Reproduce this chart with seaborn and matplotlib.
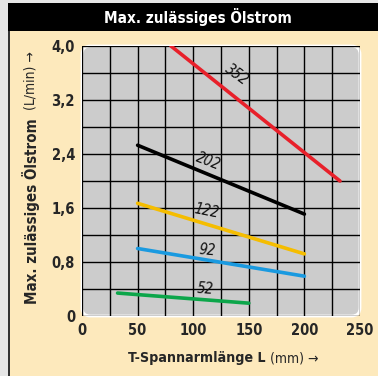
import pandas as pd
import matplotlib.pyplot as plt
import seaborn as sns
from matplotlib.patches import Rectangle, FancyBboxPatch
from matplotlib.ticker import MultipleLocator, FixedLocator

# data
sizes = ["352", "202", "122", "92", "52"]
length_mm = [[80, 232], [50, 200], [50, 200], [50, 200], [32, 150]]
oil_flow = [[4.0, 2.0], [2.53, 1.51], [1.67, 0.92], [1.0, 0.59], [0.34, 0.19]]
line_colors = ["#e8202a", "#000000", "#f5bd00", "#1a9ae0", "#0ca64a"]

label_x = [139, 114, 112, 113, 111]
label_y = [3.58, 2.29, 1.55, 0.98, 0.40]
label_rot = [-36, -21, -11, -5, -3]

yticks = [0, 0.8, 1.6, 2.4, 3.2, 4.0]
ytick_labels = ["0", "0,8", "1,6", "2,4", "3,2", "4,0"]
xticks = [0, 50, 100, 150, 200, 250]

rows = []
for s, xs, ys in zip(sizes, length_mm, oil_flow):
    for x, y in zip(xs, ys):
        rows.append({"size": s, "L": x, "flow": y})
df = pd.DataFrame(rows)

sns.set_style("white")
plt.rcParams["font.family"] = ["DejaVu Sans"]
plt.rcParams["font.stretch"] = "condensed"

cream = "#fde9bc"
fig = plt.figure(figsize=(3.78, 3.76), dpi=100)
fig.patch.set_facecolor("#e6e6e6")

# cream panel and black title bar
fig.patches.append(Rectangle((8 / 378, 0), 1, 345 / 376, transform=fig.transFigure,
                             facecolor=cream, edgecolor="none", zorder=-2))
fig.patches.append(Rectangle((8 / 378, 0), 0.005, 345 / 376, transform=fig.transFigure,
                             facecolor="#333333", edgecolor="none", zorder=-2))
fig.patches.append(Rectangle((8 / 378, 345 / 376), 1, 28 / 376, transform=fig.transFigure,
                             facecolor="black", edgecolor="none", zorder=-2))
fig.text(198 / 378, 359 / 376, "Max. zulässiges Ölstrom", color="white",
         fontsize=11, fontweight="bold", ha="center", va="center")

ax = fig.add_axes([82 / 378, 60 / 376, 278 / 378, 270 / 376])
ax.set_facecolor("none")

bg = FancyBboxPatch((0, 0), 1, 1, boxstyle="round,pad=0,rounding_size=0.03",
                    transform=ax.transAxes, facecolor="#cccccc", edgecolor="white",
                    linewidth=2, zorder=0, clip_on=False, mutation_aspect=278 / 270)
ax.add_patch(bg)

sns.lineplot(data=df, x="L", y="flow", hue="size", hue_order=sizes,
             palette=line_colors, linewidth=2.6, legend=False, ax=ax, zorder=3)

for s, x, y, r in zip(sizes, label_x, label_y, label_rot):
    ax.text(x, y, s, rotation=r, ha="center", va="center", fontsize=10.5,
            fontstyle="italic", color="#111111", zorder=4)

ax.set_xlim(0, 250)
ax.set_ylim(0, 4.0)
ax.set_xlabel("")
ax.set_ylabel("")
ax.xaxis.set_major_locator(FixedLocator(xticks))
ax.xaxis.set_minor_locator(MultipleLocator(25))
ax.yaxis.set_major_locator(FixedLocator(yticks))
ax.yaxis.set_minor_locator(MultipleLocator(0.4))
ax.set_yticklabels(ytick_labels)
ax.grid(which="both", color="black", linewidth=1)
ax.set_axisbelow(False)
for sp in ax.spines.values():
    sp.set_visible(False)
ax.tick_params(which="major", length=3, width=0.8, color="#333333",
               labelsize=10.5, pad=2)
ax.tick_params(which="minor", length=0)
for t in ax.get_xticklabels() + ax.get_yticklabels():
    t.set_fontweight("bold")

# axis titles, bold part followed by normal part
xb = fig.text(128 / 378, 14 / 376, "T-Spannarmlänge L", fontsize=10.2, fontweight="bold",
              ha="left", va="baseline")
ax.annotate(" (mm) \u2192", xy=(1, 0), xycoords=xb, fontsize=10,
            ha="left", va="bottom", annotation_clip=False)
yb = fig.text(31 / 378, 72 / 376, "Max. zulässiges Ölstrom", fontsize=10.8,
              fontweight="bold", rotation=90, ha="center", va="bottom")
ax.annotate("  (L/min) \u2192", xy=(0.5, 1), xycoords=yb, fontsize=10, rotation=90,
            ha="center", va="bottom", annotation_clip=False)

fig.savefig("out.png", dpi=100, facecolor=fig.get_facecolor())
